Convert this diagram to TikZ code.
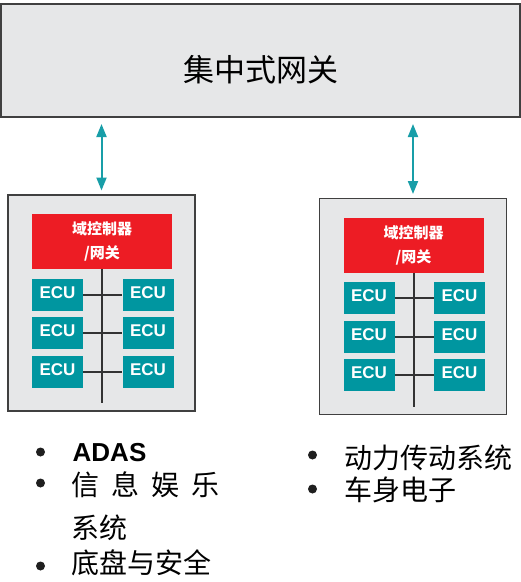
\documentclass[tikz,border=0pt]{standalone}
\usepackage{fontspec}
\setmainfont{Liberation Sans}
\newfontfamily\cjk{Noto Sans CJK SC}
\usetikzlibrary{positioning,arrows.meta}
\definecolor{boxgray}{RGB}{230,231,232}
\definecolor{edgegray}{RGB}{64,64,64}
\definecolor{ctrlred}{RGB}{237,28,36}
\definecolor{ecuteal}{RGB}{0,150,160}
\definecolor{linkteal}{RGB}{24,158,168}
\tikzset{
  panel/.style={draw=edgegray, fill=boxgray, line width=1.5pt, inner sep=0pt, outer sep=0pt},
  ctrl/.style={fill=ctrlred, text=white, minimum width=140pt, minimum height=55pt, inner sep=0pt,
    align=center, font=\cjk\bfseries\fontsize{15}{24}\selectfont},
  ecu/.style={fill=ecuteal, text=white, minimum width=51pt, minimum height=32pt, inner sep=0pt,
    text height=12pt, text depth=5pt, font=\bfseries\fontsize{17}{17}\selectfont},
  bus/.style={draw=black!80, line width=2pt},
  link/.style={draw=linkteal, line width=2pt, {Triangle[length=13pt,width=10pt]}-{Triangle[length=13pt,width=10pt]},
    shorten <=7pt, shorten >=4.5pt},
  item/.style={anchor=base west, inner sep=0pt, font=\cjk\fontsize{28}{28}\selectfont}
}

\begin{document}
\begin{tikzpicture}[x=1pt, y=-1pt]
    \useasboundingbox (0,0) rectangle (521,582);

    % central gateway
    \node[panel, minimum width=519pt, minimum height=113pt, text height=45pt, text depth=2.4pt,
      font=\cjk\fontsize{31}{31}\selectfont] (gw) at (260.5,60.5) {集中式网关};

    % two domains
    \foreach \s/\cx/\cy in {L/101.5/303, R/413/306.5}{
        \node[panel, minimum width=187pt, minimum height=216pt] (dom\s) at (\cx,\cy) {};
        \node[ctrl] (ctrl\s) at (\cx+0.5,\cy-61.5) {域控制器\\/网关};
        \coordinate (end\s) at (\cx+0.5,\cy+100);
        \foreach \r/\dy in {1/-8.5, 2/30, 3/68.5}{
            \node[ecu] (ecu\s\r a) at (\cx-44,\cy+\dy) {ECU};
            \node[ecu] (ecu\s\r b) at (\cx+46.5,\cy+\dy) {ECU};
            \draw[bus] (ecu\s\r a.east) -- (ecu\s\r b.west);
        }
        \draw[bus] (ctrl\s.south) -- (end\s);
        \draw[link] (gw.south -| dom\s.north) -- (dom\s.north);
    }

    % domain lists
    \node[item] (itL1) at (72.5,461) {\normalfont\bfseries\fontsize{26}{26}\selectfont ADAS};
    \node[item] (itL2) at (71.5,495) {信\hspace{12pt}息\hspace{12pt}娱\hspace{12pt}乐};
    \node[item] (itL3) at (71.5,538) {系统};
    \node[item] (itL4) at (71.5,573) {底盘与安全};
    \node[item] (itR1) at (344,468) {动力传动系统};
    \node[item] (itR2) at (344,500) {车身电子};

    % bullets
    \foreach \bx/\by in {40.5/452, 40.5/483, 40.5/566, 312.5/455, 312.5/489}
        \fill[black!88] (\bx,\by) circle (4.5pt);

\end{tikzpicture}
\end{document}
